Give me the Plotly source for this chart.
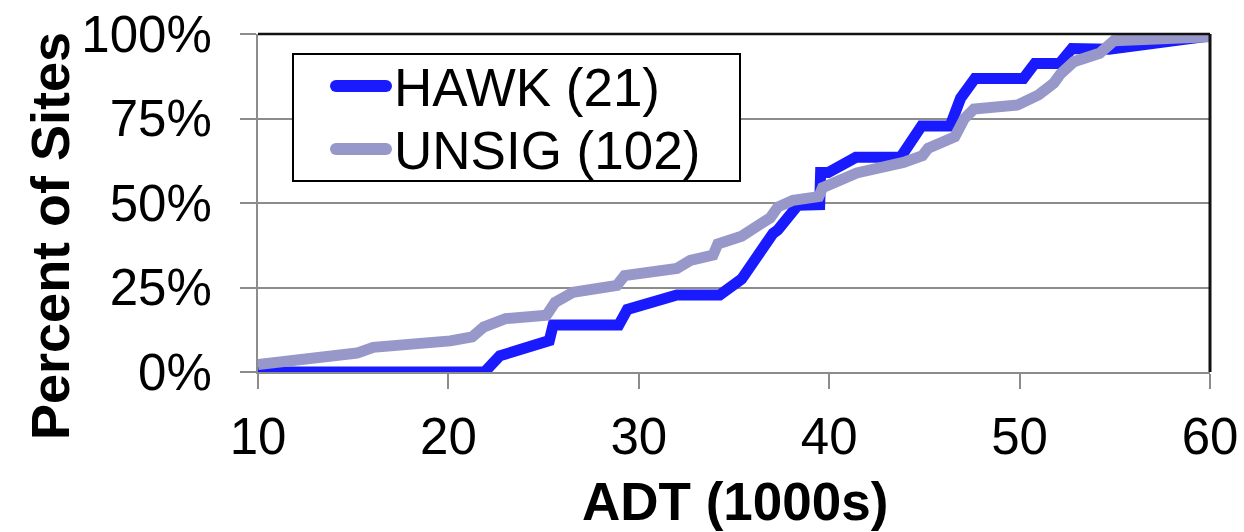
import plotly.graph_objects as go

# ADT (thousands of vehicles/day) vs cumulative percent of sites
hawk_adt = [10, 21.9, 22.7, 25.3, 25.5, 28.95, 29.4, 32.0, 34.25, 35.4, 37.05, 37.3,
            38.35, 39.5, 39.55, 39.95, 41.4, 43.75, 44.85, 46.35, 46.9, 47.65, 50.2,
            50.8, 52.1, 52.75, 54.7, 60]
hawk_pct = [0, 0, 4.8, 9.3, 13.9, 13.9, 18.5, 22.8, 22.8, 27.5, 41.0, 42.0,
            49.3, 49.5, 59.0, 59.0, 63.5, 63.5, 72.8, 72.8, 81.0, 86.8, 86.8,
            91.3, 91.3, 95.7, 95.5, 99.4]

unsig_adt = [10, 15.2, 16.05, 19.0, 20.1, 21.25, 21.85, 23.0, 25.15, 25.6, 26.55, 28.85,
             29.25, 32.0, 32.7, 33.9, 34.15, 35.4, 36.9, 37.3, 38.1, 39.45, 39.65,
             41.45, 42.55, 43.9, 44.9, 45.2, 46.6, 47.1, 47.6, 49.9, 51.0, 51.8,
             52.15, 52.85, 54.2, 54.95, 60]
unsig_pct = [2.2, 5.6, 7.3, 8.5, 9.2, 10.4, 13.3, 15.8, 16.8, 20.6, 23.6, 25.6,
             28.5, 30.6, 33.0, 34.6, 37.9, 40.2, 45.6, 48.8, 50.8, 51.9, 54.5,
             58.9, 60.0, 62.0, 64.0, 66.2, 69.6, 75.0, 77.8, 79.0, 82.0, 85.5,
             88.2, 91.8, 94.3, 98.0, 99.2]

series_names = ["HAWK (21)", "UNSIG (102)"]
series_colors = ["#1a1aff", "#9797c9"]

x_ticks = [10, 20, 30, 40, 50, 60]
y_ticks = [0, 25, 50, 75, 100]
y_tick_text = [f"{v}%" for v in y_ticks]

FONT = "Liberation Sans, Arial, sans-serif"
GRID = "#8c8c8c"

fig = go.Figure()
fig.add_trace(go.Scatter(x=hawk_adt, y=hawk_pct, mode="lines", name=series_names[0],
                         line=dict(color=series_colors[0], width=11), showlegend=False))
fig.add_trace(go.Scatter(x=unsig_adt, y=unsig_pct, mode="lines", name=series_names[1],
                         line=dict(color=series_colors[1], width=11), showlegend=False))

W, H = 1244, 532
ML, MR, MT, MB = 258, 34, 34, 160
PW, PH = W - ML - MR, H - MT - MB


def px(xpix):
    return (xpix - ML) / PW


def py(ypix):
    return (H - MB - ypix) / PH


shapes = [
    # dark frame on top and right of the plot area
    dict(type="line", xref="paper", yref="paper", x0=0, x1=1, y0=1, y1=1,
         line=dict(color="#111111", width=2.5), layer="above"),
    dict(type="line", xref="paper", yref="paper", x0=1, x1=1, y0=0, y1=1,
         line=dict(color="#111111", width=3), layer="above"),
    # legend box
    dict(type="rect", xref="paper", yref="paper", x0=px(293), x1=px(740),
         y0=py(181), y1=py(54), line=dict(color="black", width=2),
         fillcolor="white", layer="above"),
]

annotations = []
sample_y = [86, 149]
for name, color, yy in zip(series_names, series_colors, sample_y):
    r = 6
    shapes.append(dict(type="line", xref="paper", yref="paper", x0=px(336), x1=px(386),
                       y0=py(yy), y1=py(yy), line=dict(color=color, width=12), layer="above"))
    for cx in (336, 386):
        shapes.append(dict(type="circle", xref="paper", yref="paper",
                           x0=px(cx - r), x1=px(cx + r), y0=py(yy + r), y1=py(yy - r),
                           fillcolor=color, line=dict(width=0), layer="above"))
    annotations.append(dict(text=name, xref="paper", yref="paper", x=px(392), y=py(yy + 1),
                            xanchor="left", yanchor="middle", showarrow=False,
                            font=dict(family=FONT, size=53, color="black")))

annotations.append(dict(text="<b>Percent of Sites</b>", xref="paper", yref="paper",
                        x=px(50), y=py(236), textangle=-90, xanchor="center", yanchor="middle",
                        showarrow=False, font=dict(family=FONT, size=54, color="black")))
annotations.append(dict(text="<b>ADT (1000s)</b>", xref="paper", yref="paper",
                        x=px(735), y=py(501), xanchor="center", yanchor="middle",
                        showarrow=False, font=dict(family=FONT, size=53, color="black")))

fig.update_layout(
    width=W, height=H,
    margin=dict(l=ML, r=MR, t=MT, b=MB, pad=0),
    paper_bgcolor="white", plot_bgcolor="white",
    shapes=shapes, annotations=annotations,
    xaxis=dict(range=[10, 60], tickvals=x_ticks, ticks="outside", ticklen=15, tickwidth=2,
               tickcolor=GRID, showline=True, linecolor=GRID, linewidth=2, showgrid=False,
               zeroline=False, ticklabelstandoff=4, automargin=False,
               tickfont=dict(family=FONT, size=51, color="black")),
    yaxis=dict(range=[0, 100], tickvals=y_ticks, ticktext=y_tick_text, ticks="outside",
               ticklen=16, tickwidth=2, tickcolor=GRID, showline=True, linecolor=GRID,
               linewidth=2, showgrid=True, gridcolor=GRID, gridwidth=2, zeroline=False,
               ticklabelstandoff=18, automargin=False,
               tickfont=dict(family=FONT, size=51, color="black")),
)

fig.write_html("out.html")
